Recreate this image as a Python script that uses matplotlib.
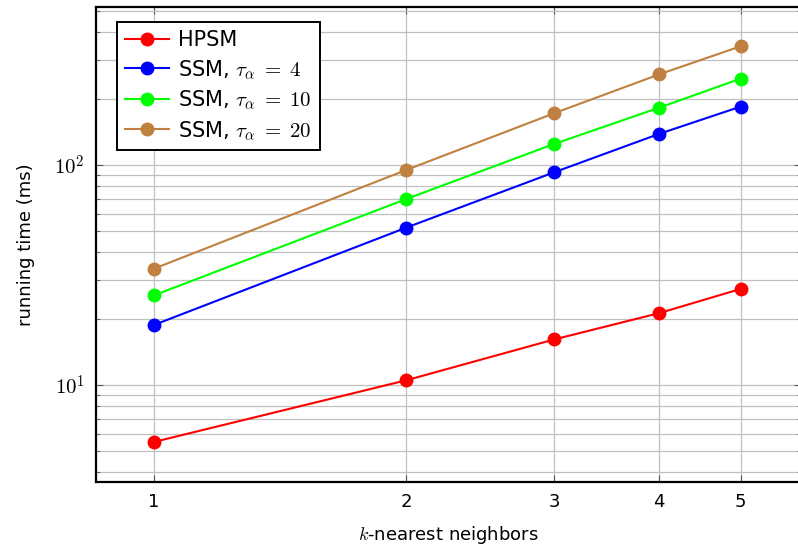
import matplotlib
matplotlib.use("Agg")
import matplotlib.pyplot as plt
from matplotlib.ticker import LogLocator, NullLocator, FixedLocator, FixedFormatter, FuncFormatter
import numpy as np

plt.rcParams["mathtext.fontset"] = "cm"
plt.rcParams["font.family"] = ["DejaVu Sans"]

k_values = [1, 2, 3, 4, 5]
x_tick_labels = ["1", "2", "3", "4", "5"]

hpsm = [5.5, 10.5, 16.1, 21.2, 27.3]
ssm_tau4 = [18.7, 51.9, 92.6, 138.4, 184.0]
ssm_tau10 = [25.5, 70.0, 124.6, 182.0, 246.6]
ssm_tau20 = [33.7, 94.9, 171.8, 258.0, 346.0]

series = [
    ("HPSM", hpsm, "#ff0000"),
    (r"SSM, $\tau_\alpha\;=\;4$", ssm_tau4, "#0000ff"),
    (r"SSM, $\tau_\alpha\;=\;10$", ssm_tau10, "#00ff00"),
    (r"SSM, $\tau_\alpha\;=\;20$", ssm_tau20, "#bf8040"),
]

W, H = 798, 546
fig = plt.figure(figsize=(W / 100, H / 100), dpi=100)
ax = fig.add_axes([96 / W, 1 - 482 / H, (801 - 96) / W, (482 - 7) / H])

for label, vals, color in series:
    ax.plot(k_values, vals, color=color, lw=1.5, marker="o", ms=9,
            label=label, zorder=3)

ax.set_xscale("log")
ax.set_yscale("log")
ax.set_xlim(0.854, 5.9)
ax.set_ylim(3.62, 522)

ax.xaxis.set_major_locator(FixedLocator(k_values))
ax.xaxis.set_major_formatter(FixedFormatter(x_tick_labels))
ax.xaxis.set_minor_locator(NullLocator())
ax.yaxis.set_major_locator(LogLocator(base=10, numticks=10))
ax.yaxis.set_major_formatter(FuncFormatter(
    lambda v, pos: r"$10^{%d}$" % int(round(np.log10(v)))))
ax.yaxis.set_minor_locator(LogLocator(base=10, subs=range(2, 10), numticks=20))

ax.grid(True, which="both", axis="y", color="#c0c0c0", lw=0.9)
ax.grid(True, which="major", axis="x", color="#c0c0c0", lw=0.9)
ax.set_axisbelow(True)

ax.tick_params(axis="both", which="both", direction="in", top=True, right=True,
               color="#555555")
ax.tick_params(axis="x", which="major", length=5, labelsize=13, pad=8)
ax.tick_params(axis="y", which="major", length=5, labelsize=15, pad=8)
ax.tick_params(axis="y", which="minor", length=3)

for s in ax.spines.values():
    s.set_linewidth(1.6)

ax.set_xlabel(r"$k$-nearest neighbors", fontsize=13, labelpad=9)
ax.set_ylabel("running time (ms)", fontsize=13, labelpad=14)

leg = ax.legend(loc="upper left", bbox_to_anchor=(117 / W, 1 - 22 / H),
                bbox_transform=fig.transFigure, fontsize=15, frameon=True,
                fancybox=False, framealpha=1, edgecolor="black",
                handlelength=2.1, borderpad=0.4, labelspacing=0.36,
                handletextpad=0.45, borderaxespad=0)
leg.get_frame().set_linewidth(1.4)

fig.savefig("out.png", dpi=100)
